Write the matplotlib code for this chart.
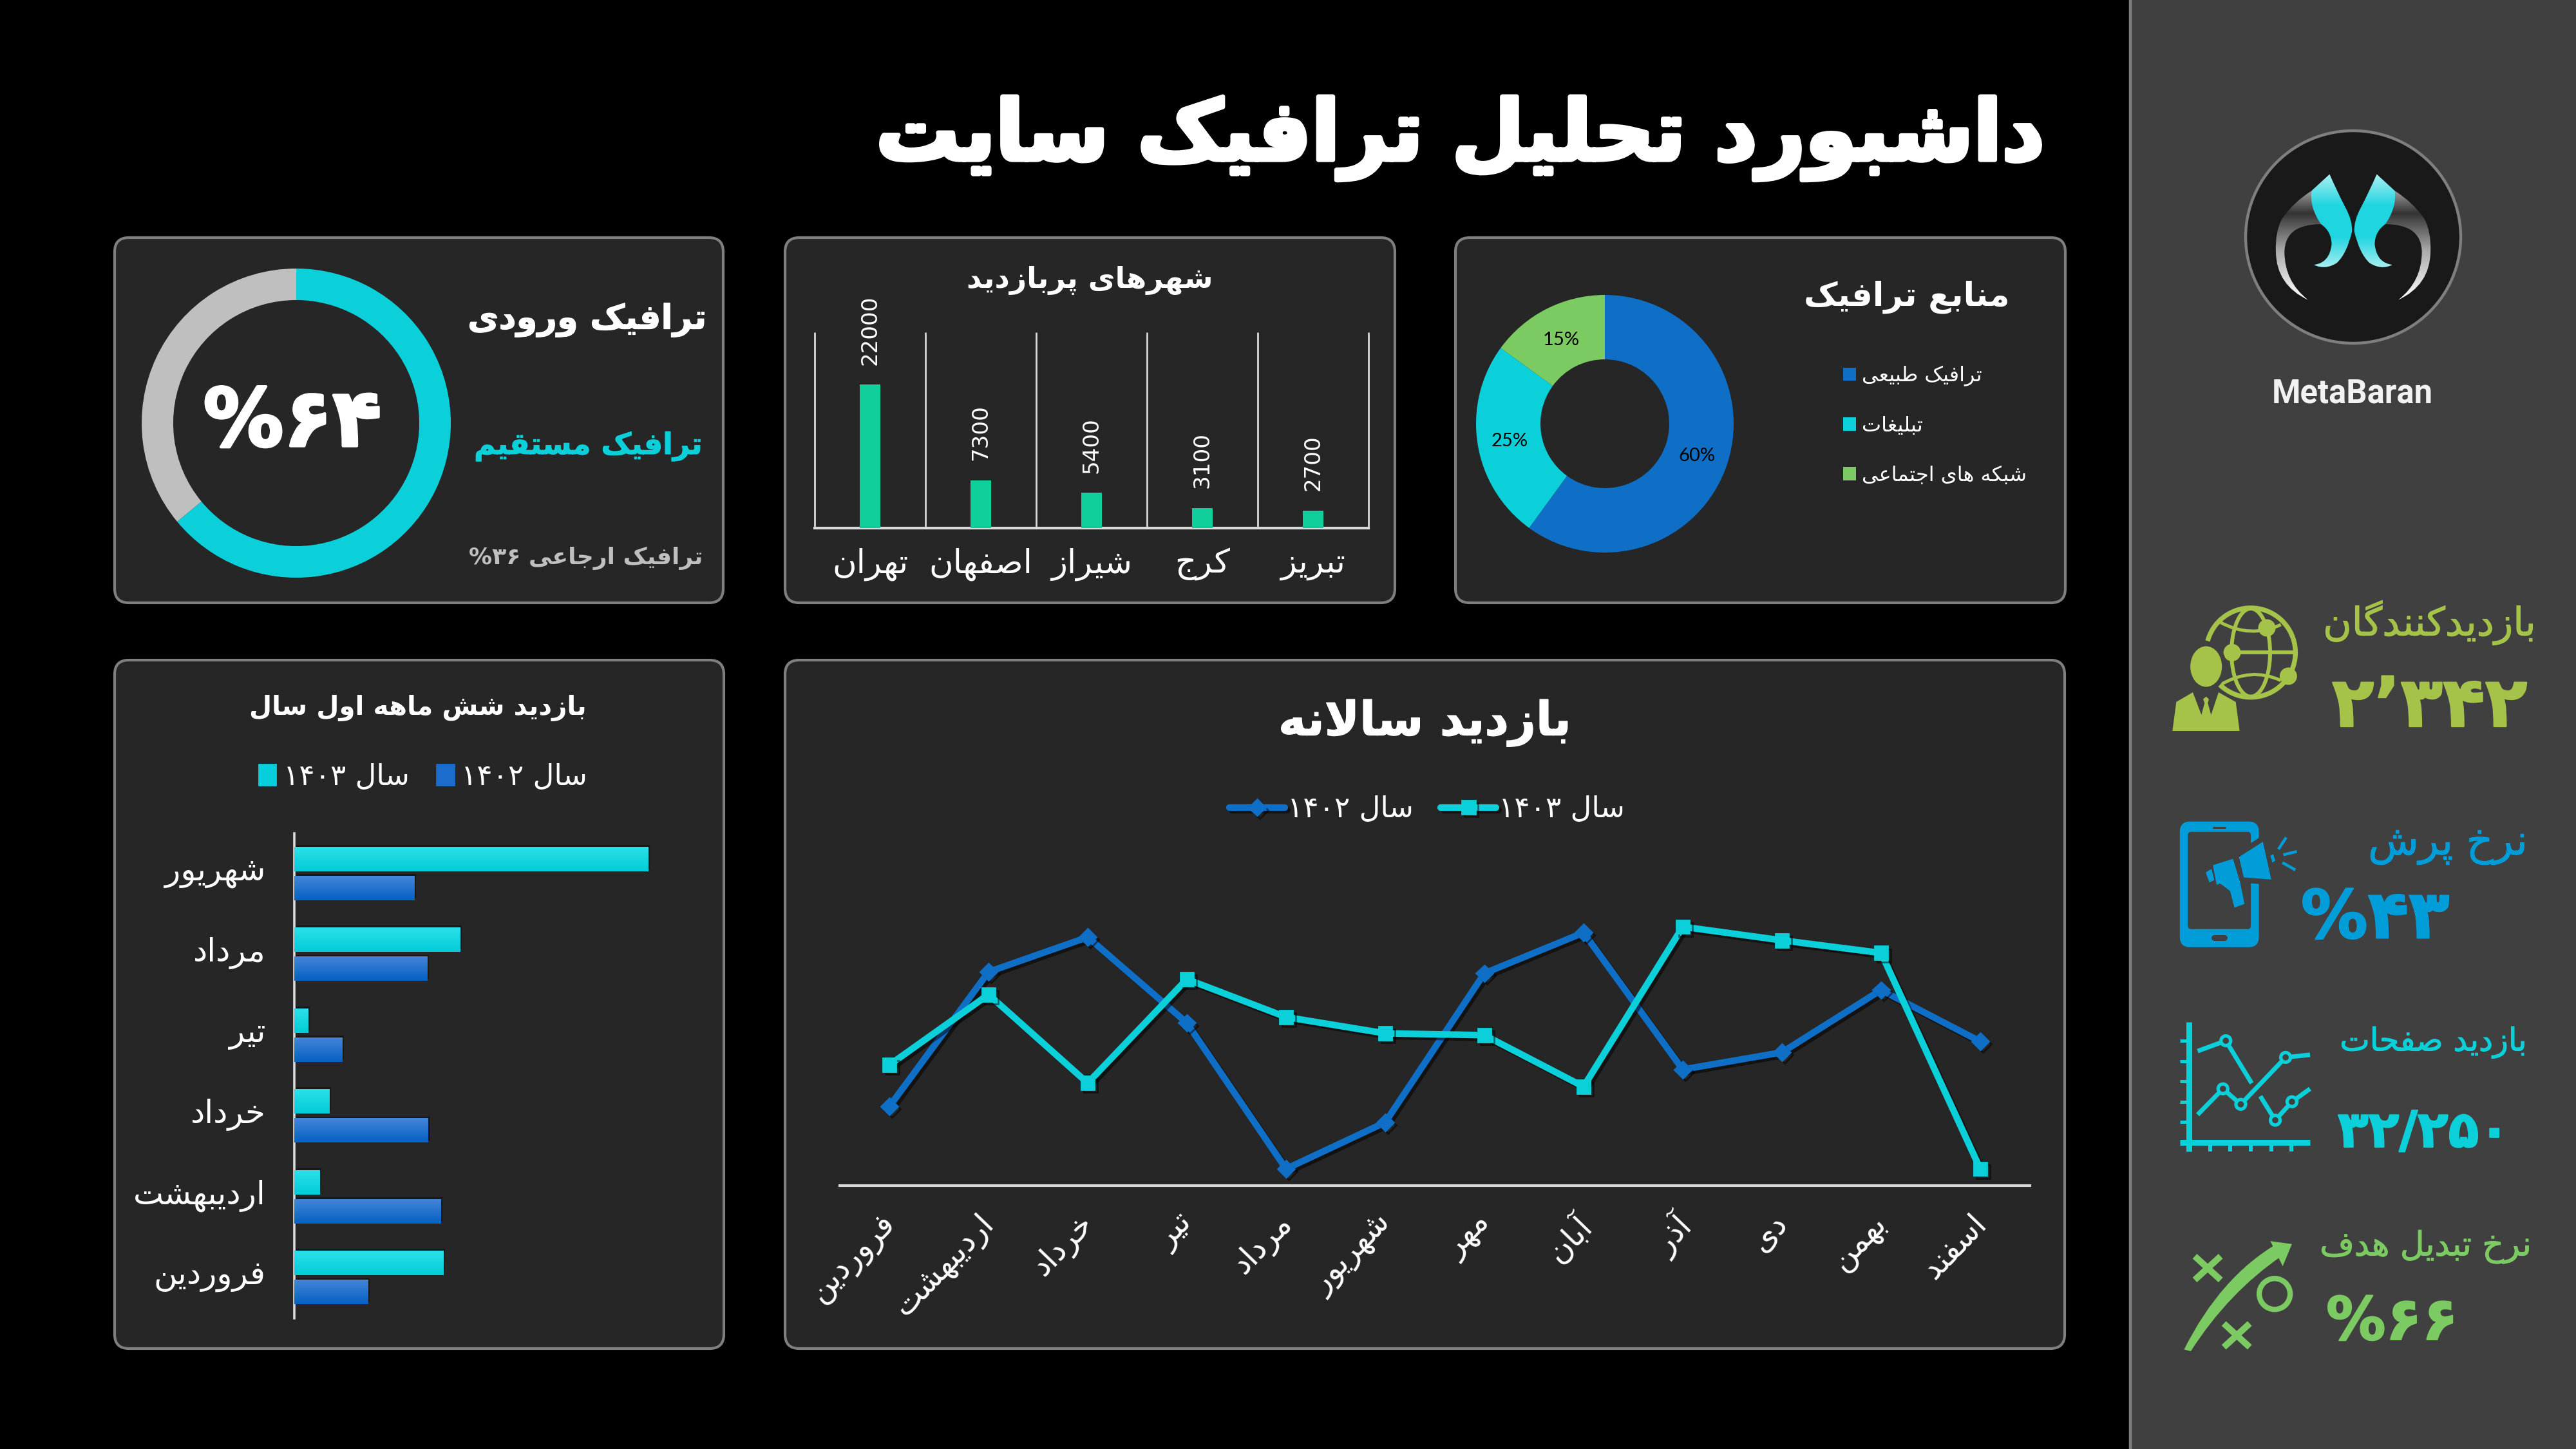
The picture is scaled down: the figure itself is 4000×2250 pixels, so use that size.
import re
import numpy as np
import matplotlib
matplotlib.use('Agg')
import matplotlib.pyplot as plt
from matplotlib.patches import FancyBboxPatch, Rectangle, Ellipse, PathPatch, Polygon, Patch
from matplotlib.path import Path
from matplotlib.textpath import TextPath
from matplotlib.font_manager import FontProperties
from matplotlib.colors import LinearSegmentedColormap
from matplotlib.transforms import ScaledTranslation
import matplotlib.patheffects as pe

# ---------- data ----------
title_text = 'داشبورد تحلیل ترافیک سایت'
ring_values = [64, 36]
city_names = ['تهران', 'اصفهان', 'شیراز', 'کرج', 'تبریز']
city_visits = [22000, 7300, 5400, 3100, 2700]
source_names = ['ترافیک طبیعی', 'تبلیغات', 'شبکه های اجتماعی']
source_share = [60, 25, 15]
half_months = ['فروردین', 'اردیبهشت', 'خرداد', 'تیر', 'مرداد', 'شهریور']
half_1402 = [1800, 3560, 3260, 1170, 3240, 2930]
half_1403 = [3630, 620, 860, 340, 4040, 8610]
months = ['فروردین', 'اردیبهشت', 'خرداد', 'تیر', 'مرداد', 'شهریور',
          'مهر', 'آبان', 'آذر', 'دی', 'بهمن', 'اسفند']
year_1402 = [1750, 4730, 5500, 3600, 370, 1400, 4700, 5600, 2570, 2950, 4330, 3190]
year_1403 = [2670, 4230, 2270, 4570, 3730, 3370, 3330, 2190, 5730, 5430, 5150, 370]
label_1402 = 'سال ۱۴۰۲'
label_1403 = 'سال ۱۴۰۳'

BLUE, SKY, CYAN, MINT, GREEN, LIME = '#0F6FC6', '#009DD9', '#0BD0D9', '#10CF9B', '#7CCA62', '#A5C249'
PANEL, EDGE, AXISC, SIDE = '#262626', '#7F7F7F', '#D9D9D9', '#404040'

# ---------- Persian shaping (presentation forms + visual order) ----------
def _r(a, b=None):
    return tuple(chr(x) for x in (range(a, a + 4) if b is None else (a, b)))
FORMS = {'ا': _r(0xFE8D, 0xFE8E), 'آ': _r(0xFE81, 0xFE82), 'ب': _r(0xFE8F), 'پ': _r(0xFB56), 'ت': _r(0xFE95),
         'ج': _r(0xFE9D), 'چ': _r(0xFB7A), 'ح': _r(0xFEA1), 'خ': _r(0xFEA5), 'د': _r(0xFEA9, 0xFEAA),
         'ذ': _r(0xFEAB, 0xFEAC), 'ر': _r(0xFEAD, 0xFEAE), 'ز': _r(0xFEAF, 0xFEB0), 'ژ': _r(0xFB8A, 0xFB8B),
         'س': _r(0xFEB1), 'ش': _r(0xFEB5), 'ص': _r(0xFEB9), 'ض': _r(0xFEBD), 'ط': _r(0xFEC1), 'ظ': _r(0xFEC5),
         'ع': _r(0xFEC9), 'غ': _r(0xFECD), 'ف': _r(0xFED1), 'ق': _r(0xFED5), 'ک': _r(0xFB8E), 'گ': _r(0xFB92),
         'ل': _r(0xFEDD), 'م': _r(0xFEE1), 'ن': _r(0xFEE5), 'ه': _r(0xFEE9), 'و': _r(0xFEED, 0xFEEE),
         'ی': _r(0xFBFC), 'LA': _r(0xFEFB, 0xFEFC)}

def fa(s):
    seq, i = [], 0
    while i < len(s):
        if s[i] == 'ل' and i + 1 < len(s) and s[i + 1] == 'ا':
            seq.append('LA'); i += 2
        else:
            seq.append(s[i]); i += 1
    out = []
    for j, c in enumerate(seq):
        if c not in FORMS:
            out.append(c); continue
        f = FORMS[c]
        prev = seq[j - 1] if j else None
        nxt = seq[j + 1] if j + 1 < len(seq) else None
        jp = prev in FORMS and len(FORMS[prev]) == 4
        jn = len(f) == 4 and nxt in FORMS
        if len(f) == 2:
            out.append(f[1] if jp else f[0])
        else:
            out.append(f[3] if jp and jn else f[1] if jp else f[2] if jn else f[0])
    rev = ''.join(out)[::-1]
    return re.sub(r'[۰-۹0-9][۰-۹0-9/٬,]*[۰-۹0-9]|[۰-۹0-9]', lambda m: m.group()[::-1], rev)

DPI = 200
W, H = 4000, 2250
plt.rcParams['font.family'] = ['DejaVu Sans']
fig = plt.figure(figsize=(W / DPI, H / DPI), dpi=DPI, facecolor='black')

def size_for(vis, px, bold=False, family='DejaVu Sans'):
    fp = FontProperties(family=family, weight='bold' if bold else 'normal')
    w = TextPath((0, 0), vis, size=100, prop=fp).get_extents().width
    return px / (w / 100 * DPI / 72)

def axpx(x0, y0, x1, y1, **kw):
    a = fig.add_axes([x0 / W, 1 - y1 / H, (x1 - x0) / W, (y1 - y0) / H], **kw)
    a.patch.set_alpha(0)
    return a

bg = fig.add_axes([0, 0, 1, 1])
bg.set_xlim(0, W); bg.set_ylim(H, 0); bg.axis('off')

def put(s, x0, x1, y, color='white', bold=False, family='DejaVu Sans', shaped=True, heavy=0):
    vis = fa(s) if shaped else s
    fs = size_for(vis, x1 - x0, bold, family)
    t = bg.text((x0 + x1) / 2, y, vis, color=color, fontsize=fs, family=family,
                weight='bold' if bold else 'normal', ha='center', va='center')
    if heavy:
        t.set_path_effects([pe.withStroke(linewidth=heavy, foreground=color)])
    return t

# sidebar and panels
bg.add_patch(Rectangle((3308, -20), 720, H + 40, fc=SIDE, ec=EDGE, lw=1.6))
for (x0, y0, x1, y1) in [(178, 369, 1123, 936), (1219, 369, 2166, 936), (2260, 369, 3207, 936),
                         (178, 1025, 1124, 2094), (1219, 1025, 3206, 2094)]:
    bg.add_patch(FancyBboxPatch((x0 + 22, y0 + 22), x1 - x0 - 44, y1 - y0 - 44,
                                boxstyle='round,pad=22,rounding_size=22', fc=PANEL, ec=EDGE, lw=1.5))

# title
put(title_text, 1368, 3167, 215, bold=True, heavy=2.5)

# ---------- ring ----------
ax = axpx(220, 417, 700, 897)
ax.pie(ring_values, colors=[CYAN, '#BFBFBF'], startangle=90, counterclock=False, radius=1,
       wedgeprops=dict(width=0.204))
ax.set_xlim(-1, 1); ax.set_ylim(-1, 1)
put('۶۴%', 320, 588, 658, bold=True, heavy=1.5)
put('ترافیک ورودی', 730, 1094, 497, bold=True, heavy=0.4)
put('ترافیک مستقیم', 740, 1088, 693, color=CYAN, bold=True, heavy=0.4)
put('ترافیک ارجاعی ۳۶%', 730, 1089, 867, color='#BFBFBF', bold=True)

# ---------- cities ----------
ax = axpx(1265, 516, 2125, 820)
pos = np.arange(len(city_names))
ax.bar(pos, city_visits, width=0.186, color=MINT, zorder=3)
ax.vlines(np.arange(len(city_names) + 1) - 0.5, 0, 30000, color=AXISC, lw=1.0, clip_on=False)
ax.set_xlim(-0.5, 4.5); ax.set_ylim(0, 30000)
for sp in ['top', 'left', 'right']:
    ax.spines[sp].set_visible(False)
ax.spines['bottom'].set_color(AXISC); ax.spines['bottom'].set_linewidth(1.5)
ax.set_yticks([]); ax.set_xticks(pos)
ax.set_xticklabels([fa(c) for c in city_names], color='white', fontsize=18.5)
ax.tick_params(axis='x', length=0, pad=11)
for xp, v in zip(pos, city_visits):
    ax.annotate(str(v), (xp, v), xytext=(0, 11), textcoords='offset points', rotation=90,
                color='white', fontsize=12.3, ha='center', va='bottom', annotation_clip=False)
put('شهرهای پربازدید', 1505, 1880, 435, bold=True)

# ---------- sources donut ----------
ax = axpx(2292, 458, 2692, 858)
wedges, _, autot = ax.pie(source_share, colors=[BLUE, CYAN, GREEN], startangle=90, counterclock=False,
                          radius=1, wedgeprops=dict(width=0.5), autopct='%d%%', pctdistance=0.75,
                          textprops=dict(color='black', fontsize=10.5, family='Lato'))
for t in autot:
    t.set_y(t.get_position()[1] - 0.02)
ax.set_xlim(-1, 1); ax.set_ylim(-1, 1)
put('منابع ترافیک', 2804, 3117, 461, bold=True)
src_fs = size_for(fa(source_names[0]), 183)
fig.legend(wedges, [fa(n) for n in source_names], loc='upper left',
           bbox_to_anchor=(2862 / W, 1 - 568 / H), frameon=False, labelcolor='white', fontsize=src_fs,
           handlelength=0.62, handleheight=0.62, handletextpad=0.3, labelspacing=1.43,
           borderpad=0, borderaxespad=0)

# ---------- six months bars ----------
ax = axpx(457, 1294, 1095, 2047)
pos = np.arange(len(half_months))
bar_h, off = 0.295, 0.18
ax.set_xlim(0, 10000); ax.set_ylim(-0.5, 5.5)
def grad_bars(y, vals, c_top, c_bot):
    cm = LinearSegmentedColormap.from_list('g', [c_top, c_bot])
    ax.barh(y + 0.03, vals, height=bar_h, left=40, color='black', alpha=0.35, zorder=2, lw=0)
    for yy, v in zip(y, vals):
        ax.imshow(np.linspace(0, 1, 64)[:, None], cmap=cm, aspect='auto', origin='upper',
                  extent=(0, v, yy - bar_h / 2, yy + bar_h / 2), zorder=3)
    ax.barh(y, vals, height=bar_h, color='none', lw=0, zorder=3)
grad_bars(pos + off, half_1403, '#2BE0E8', '#02CCD8')
grad_bars(pos - off, half_1402, '#4485D8', '#0561C4')
ax.set_xlim(0, 10000); ax.set_ylim(-0.5, 5.5)
for sp in ['top', 'right', 'bottom']:
    ax.spines[sp].set_visible(False)
ax.spines['left'].set_color(AXISC); ax.spines['left'].set_linewidth(1.3)
ax.set_xticks([]); ax.set_yticks(pos)
ax.set_yticklabels([fa(m) for m in half_months], color='white',
                   fontsize=size_for(fa(half_months[1]), 198))
ax.tick_params(axis='y', length=0, pad=16)
up = ScaledTranslation(0, 8 / DPI, fig.dpi_scale_trans)
for t in ax.get_yticklabels():
    t.set_transform(t.get_transform() + up)
put('بازدید شش ماهه اول سال', 390, 908, 1099, bold=True)
leg_fs = size_for(fa(label_1402), 186)
fig.legend([Patch(color='#06CFDB'), Patch(color='#1B6CCB')], [fa(label_1403), fa(label_1402)],
           loc='center', bbox_to_anchor=(657 / W, 1 - 1206 / H), ncol=2, frameon=False,
           labelcolor='white', fontsize=leg_fs, handlelength=0.58, handleheight=0.72,
           handletextpad=0.25, columnspacing=0.95, borderpad=0, borderaxespad=0)

# ---------- yearly line ----------
ax = axpx(1304, 1350, 3152, 1841)
pos = np.arange(12)
shadow = [pe.SimpleLineShadow(offset=(1.5, -1.5), shadow_color='black', alpha=0.5), pe.Normal()]
l1, = ax.plot(pos, year_1402, color=BLUE, lw=3.7, marker='D', ms=6.5, solid_capstyle='round',
              path_effects=shadow, clip_on=False, zorder=3)
l2, = ax.plot(pos, year_1403, color=CYAN, lw=3.7, marker='s', ms=7.5, solid_capstyle='round',
              path_effects=shadow, clip_on=False, zorder=4)
ax.set_xlim(-0.5, 11.5); ax.set_ylim(0, 7000)
for sp in ['top', 'left', 'right']:
    ax.spines[sp].set_visible(False)
ax.spines['bottom'].set_color(AXISC); ax.spines['bottom'].set_linewidth(1.5)
ax.set_yticks([]); ax.set_xticks(pos)
ax.set_xticklabels([fa(m) for m in months], color='white', fontsize=17.5, rotation=46,
                   ha='right', va='top', rotation_mode='anchor')
ax.tick_params(axis='x', length=0, pad=14)
shift = ScaledTranslation(-16 / DPI, 4 / DPI, fig.dpi_scale_trans)
for t in ax.get_xticklabels():
    t.set_transform(t.get_transform() + shift)
put('بازدید سالانه', 1990, 2434, 1123, bold=True, heavy=0.5)
fig.legend([l1, l2], [fa(label_1402), fa(label_1403)], loc='center',
           bbox_to_anchor=(2216 / W, 1 - 1257 / H), ncol=2, frameon=False, labelcolor='white',
           fontsize=leg_fs, handlelength=1.9, handletextpad=0.08, columnspacing=0.95,
           borderpad=0, borderaxespad=0)

# ---------- logo ----------
def Z6(x, y):
    return (3300 + x * 0.4464, 150 + y * 0.574)
def Z7(x, y):
    return (3300 + x * 0.4464, 1220 + y * 0.574)
def Z8(x, y):
    return (3340 + x / 3, 920 + y / 3)
def curve(start, segs, Z, mirror=None):
    pts, codes = [start], [Path.MOVETO]
    for c, p in segs:
        pts += [c, p]; codes += [Path.CURVE3, Path.CURVE3]
    if mirror is not None:
        pts = [(2 * mirror - x, y) for x, y in pts]
    return Path([Z(*p) for p in pts], codes)
bg.add_patch(Ellipse((3654, 368), 334, 330, fc='#191919', ec='#7F7F7F', lw=1.6))
horn_cm = LinearSegmentedColormap.from_list('h', [(0, '#999999'), (0.2, '#333333'), (0.55, '#AAAAAA'), (1, '#FFFFFF')])
horn = [((1000, 285), (1040, 330)), ((1065, 365), (1062, 420)), ((1060, 510), (950, 550)),
        ((1032, 500), (1032, 420)), ((1030, 345), (905, 345)), ((925, 310), (938, 255))]
drop = [((910, 235), (938, 255)), ((945, 300), (905, 345)), ((868, 365), (868, 400)),
        ((875, 450), (930, 455)), ((890, 470), (850, 450)), ((815, 425), (797, 365)),
        ((795, 335), (820, 300)), ((850, 255), (875, 210))]
drop_cm = LinearSegmentedColormap.from_list('d', ['#A8EFF2', '#1FD5E0', '#1FD5E0', '#A8EFF2'])
for m in (None, 793):
    hp = curve((938, 255), horn, Z6, m)
    im = bg.imshow(np.linspace(0, 1, 64)[:, None], cmap=horn_cm, aspect='auto', origin='upper',
                   extent=(3480, 3830, Z6(0, 550)[1], Z6(0, 255)[1]), zorder=2)
    im.set_clip_path(PathPatch(hp, transform=bg.transData))
    dp = curve((875, 210), drop, Z6, m)
    im = bg.imshow(np.linspace(0, 1, 64)[:, None], cmap=drop_cm, aspect='auto', origin='upper',
                   extent=(3480, 3830, Z6(0, 465)[1], Z6(0, 210)[1]), zorder=2)
    im.set_clip_path(PathPatch(dp, transform=bg.transData))
bg.set_xlim(0, W); bg.set_ylim(H, 0)
put('MetaBaran', 3531, 3775, 611, bold=True, family='Roboto', shaped=False, color='#F2F2F2')

# ---------- KPI texts ----------
put('بازدیدکنندگان', 3612, 3933, 967, color=LIME, heavy=0.4)
put('۲٬۳۴۲', 3622, 3923, 1098, color=LIME, bold=True, heavy=0.8)
put('نرخ پرش', 3682, 3920, 1312, color=SKY, heavy=0.4)
put('۴۳%', 3575, 3801, 1428, color=SKY, bold=True, heavy=0.8)
put('بازدید صفحات', 3637, 3920, 1619, color=CYAN, heavy=0.4)
put('۳۲/۲۵۰', 3639, 3888, 1759, color=CYAN, bold=True, heavy=0.8)
put('نرخ تبدیل هدف', 3606, 3927, 1936, color=GREEN, heavy=0.4)
put('۶۶%', 3618, 3811, 2054, color=GREEN, bold=True, heavy=0.8)

# ---------- KPI icons ----------
def stroke(pts, color, w, Z=None, cap='butt', **kw):
    p = [Z(*q) for q in pts] if Z else pts
    bg.plot(*zip(*p), color=color, lw=w / DPI * 72, solid_capstyle=cap, solid_joinstyle='round', **kw)

# globe with person
th = np.radians(np.linspace(195, 525, 120))
stroke(list(zip(465 + 208 * np.cos(th), 280 + 208 * np.sin(th))), LIME, 7.5, Z8)
th = np.linspace(0, 2 * np.pi, 90)
stroke(list(zip(465 + 90 * np.cos(th), 280 + 205 * np.sin(th))), LIME, 6, Z8)
stroke([(380, 280), (665, 280)], LIME, 6, Z8)
for a, c, b in [((325, 140), (465, 215), (605, 150)), ((320, 432), (465, 345), (605, 410))]:
    bg.add_patch(PathPatch(Path([Z8(*a), Z8(*c), Z8(*b)], [Path.MOVETO, Path.CURVE3, Path.CURVE3]),
                           fc='none', ec=LIME, lw=1.8))
for p, r in [((540, 165), 27), ((378, 280), 27), ((640, 390), 27)]:
    bg.add_patch(Ellipse(Z8(*p), r, r, fc=LIME, ec='none', zorder=3))
bg.add_patch(Ellipse(Z8(257, 345), 56, 70, fc=LIME, ec=SIDE, lw=2.5, zorder=3))
bg.add_patch(Polygon([Z8(*p) for p in [(100, 645), (118, 510), (195, 465), (315, 465), (395, 510), (413, 645)]],
                     fc=LIME, ec='none', zorder=3))
bg.add_patch(Polygon([Z8(*p) for p in [(195, 465), (315, 465), (280, 570), (257, 590), (235, 570)]],
                     fc=SIDE, ec='none', zorder=3))
bg.add_patch(Polygon([Z8(*p) for p in [(257, 485), (270, 497), (265, 515), (280, 570), (257, 600),
                                       (235, 570), (250, 515), (243, 497)]], fc=LIME, ec='none', zorder=3))

# phone with megaphone
x0, y0 = Z7(190, 97); x1, y1 = Z7(465, 437)
bg.add_patch(FancyBboxPatch((x0 + 16, y0 + 16), x1 - x0 - 32, y1 - y0 - 32,
                            boxstyle='round,pad=16,rounding_size=16', fc=SKY, ec='none'))
ix0, iy0 = Z7(218, 125); ix1, iy1 = Z7(437, 388)
bg.add_patch(FancyBboxPatch((ix0 + 5, iy0 + 5), ix1 - ix0 - 10, iy1 - iy0 - 10,
                            boxstyle='round,pad=5,rounding_size=5', fc=SIDE, ec='none'))
stroke([(305, 113), (350, 113)], SIDE, 3, Z7)
stroke([(310, 411), (345, 411)], SIDE, 9, Z7, cap='round')
cone = [Z7(*p) for p in [(385, 190), (485, 140), (520, 262), (405, 255)]]
bg.add_patch(Polygon(cone, fc=SKY, ec=SIDE, lw=3.0, joinstyle='round'))
bg.add_patch(Polygon([Z7(*p) for p in [(305, 215), (375, 198), (400, 262), (415, 320), (380, 330),
                                       (365, 285), (340, 270), (330, 265), (318, 268)]], fc=SKY, ec='none'))
bg.add_patch(Polygon([Z7(*p) for p in [(280, 235), (300, 225), (310, 255), (293, 262)]], fc=SKY, ec='none'))
bg.add_patch(Polygon([Z7(*p) for p in [(505, 190), (515, 185), (522, 203), (512, 208)]], fc=SKY, ec='none'))
stroke([(533, 172), (560, 140)], SKY, 4.5, Z7)
stroke([(550, 187), (597, 178)], SKY, 4.5, Z7)
stroke([(547, 208), (592, 228)], SKY, 4.5, Z7)

# mini chart
stroke([(222, 640), (222, 990)], CYAN, 9, Z7)
stroke([(190, 965), (643, 965)], CYAN, 9, Z7)
for yy in [690, 745, 800, 855, 910]:
    stroke([(190, yy), (222, yy)], CYAN, 5, Z7)
for xx in [295, 365, 437, 508, 578]:
    stroke([(xx, 965), (xx, 990)], CYAN, 6, Z7)
stroke([(252, 718), (350, 690), (440, 805)], CYAN, 7, Z7)
stroke([(470, 840), (522, 905), (580, 855), (643, 820)], CYAN, 7, Z7)
stroke([(252, 890), (340, 820), (402, 862), (558, 735), (643, 728)], CYAN, 7, Z7)
for p in [(350, 690), (340, 820), (402, 862), (522, 905), (580, 855), (558, 735)]:
    bg.add_patch(Ellipse(Z7(*p), 15, 15, fc=SIDE, ec=CYAN, lw=1.9, zorder=4))

# play diagram
arrow = curve((205, 1525), [((330, 1330), (530, 1238)), ((545, 1255), (545, 1272)),
                            ((360, 1370), (228, 1530))], Z7)
bg.add_patch(PathPatch(arrow, fc=GREEN, ec='none'))
bg.add_patch(Polygon([Z7(*p) for p in [(505, 1232), (580, 1240), (548, 1300)]], fc=GREEN, ec='none'))
for cx, cy in [(287, 1305), (388, 1487)]:
    stroke([(cx - 45, cy - 32), (cx + 45, cy + 32)], GREEN, 10, Z7)
    stroke([(cx - 45, cy + 32), (cx + 45, cy - 32)], GREEN, 10, Z7)
bg.add_patch(Ellipse(Z7(520, 1375), 48, 48, fc='none', ec=GREEN, lw=3.0))

bg.set_xlim(0, W); bg.set_ylim(H, 0)
fig.savefig('out.png', dpi=DPI, facecolor='black')
